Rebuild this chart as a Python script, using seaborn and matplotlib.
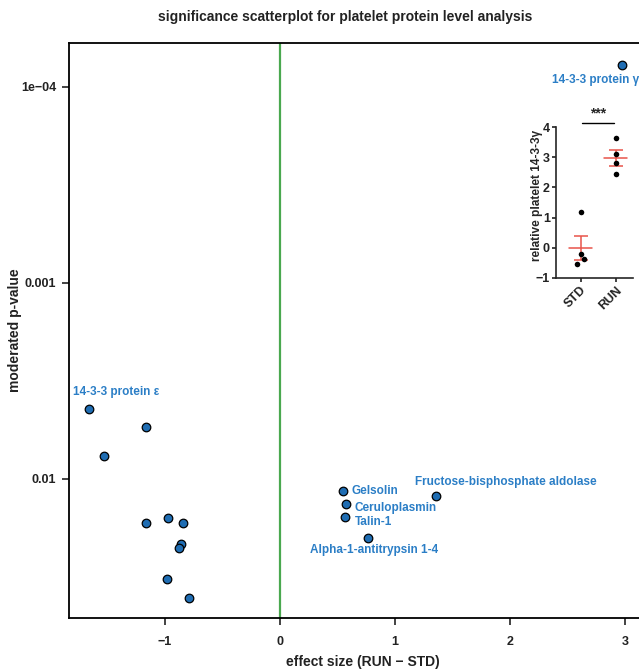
import numpy as np
import pandas as pd
import seaborn as sns
import matplotlib.pyplot as plt

# main volcano-style data: effect size and moderated p-value
proteins = ["14-3-3 protein γ", "14-3-3 protein ε", "", "", "", "", "", "", "", "", "",
            "Gelsolin", "Ceruloplasmin", "Talin-1", "Alpha-1-antitrypsin 1-4",
            "Fructose-bisphosphate aldolase"]
effect = [2.97, -1.66, -1.17, -1.53, -1.165, -0.977, -0.846, -0.861, -0.881, -0.98, -0.794,
          0.545, 0.571, 0.568, 0.768, 1.354]
log_p = [-4.112, -2.357, -2.265, -2.117, -1.776, -1.803, -1.776, -1.67, -1.646, -1.488, -1.394,
         -1.939, -1.874, -1.808, -1.699, -1.915]
pval = [10 ** v for v in log_p]

# inset: relative platelet 14-3-3 gamma
groups = ["STD", "STD", "STD", "STD", "RUN", "RUN", "RUN", "RUN"]
rel_level = [-0.55, 1.2, -0.22, -0.37, 3.65, 3.1, 2.8, 2.43]
group_mean = [0.0, 2.97]
group_sem = [0.40, 0.27]

sns.set_theme(style="ticks")
plt.rcParams['font.family'] = ['Liberation Sans', 'DejaVu Sans']
plt.rcParams['font.weight'] = 'bold'

df = pd.DataFrame({"protein": proteins, "effect": effect, "p": pval})

fig = plt.figure(figsize=(6.39, 6.71), dpi=100)
ax = fig.add_axes([0.1072, 0.079, 0.907, 0.857])
sns.scatterplot(data=df, x="effect", y="p", ax=ax, color="#1f6db3", edgecolor="black",
                linewidth=0.9, s=38, zorder=3, legend=False)
ax.axvline(0, color="#4aa84f", lw=1.6, zorder=2)
ax.set_yscale("log")
ax.set_xlim(-1.84, 3.2)
ax.set_ylim(10 ** -1.291, 10 ** -4.224)
ax.set_yticks([1e-4, 1e-3, 1e-2])
ax.set_yticklabels(["1e\u221204", "0.001", "0.01"])
ax.minorticks_off()
ax.set_xticks([-1, 0, 1, 2, 3])
ax.set_xticklabels(["\u22121", "0", "1", "2", "3"])
ax.tick_params(labelsize=9, width=1.2, length=5, colors="#222222")
ax.tick_params(axis="x", pad=8)
ax.tick_params(axis="y", pad=4)
for lab in ax.get_xticklabels() + ax.get_yticklabels():
    lab.set_fontweight("bold")
for sp in ax.spines.values():
    sp.set_linewidth(1.3)
    sp.set_color("black")
ax.set_xlabel("")
ax.set_ylabel("")

lab_color = "#2b7ec6"
# label offsets in points: (dx, dy)
offsets = {
    "14-3-3 protein γ": (-50, -11),
    "14-3-3 protein ε": (-12, 12),
    "Gelsolin": (6, 0),
    "Ceruloplasmin": (6, -3),
    "Talin-1": (7, -4),
    "Alpha-1-antitrypsin 1-4": (-42, -9),
    "Fructose-bisphosphate aldolase": (-15, 10),
}
for name, xv, pv in zip(proteins, effect, pval):
    if name in offsets:
        dx, dy = offsets[name]
        ax.annotate(name, (xv, pv), xytext=(dx, dy), textcoords="offset points",
                    ha="left", va="center", color=lab_color, fontsize=8.5, fontweight="bold")

fig.text(345 / 639, 1 - 17 / 671, "significance scatterplot for platelet protein level analysis",
         ha="center", va="center", fontsize=10, fontweight="bold", color="#222222")
fig.text(363 / 639, 1 - 662 / 671, "effect size (RUN \u2212 STD)", ha="center", va="center",
         fontsize=10, fontweight="bold", color="#222222")
fig.text(15 / 639, 1 - 330 / 671, "moderated p-value", ha="center", va="center", rotation=90,
         fontsize=10, fontweight="bold", color="#222222")

# inset dot plot
iax = fig.add_axes([556 / 639, 1 - 278 / 671, 77 / 639, 151 / 671])
inset = pd.DataFrame({"group": groups, "level": rel_level})
order = ["STD", "RUN"]
xpos = {"STD": 0, "RUN": 1}
jit = [-0.1, 0.0, 0.0, 0.1, 0.0, 0.0, 0.0, 0.0]
inset["x"] = [xpos[g] + j for g, j in zip(groups, jit)]
sns.scatterplot(data=inset, x="x", y="level", ax=iax, color="black", s=16,
                edgecolor="black", linewidth=0, zorder=3, legend=False)
for i, (m, se) in enumerate(zip(group_mean, group_sem)):
    iax.plot([i - 0.33, i + 0.33], [m, m], color="#e8544a", lw=1.1, zorder=2)
    iax.errorbar(i, m, yerr=se, color="#e8544a", capsize=5, elinewidth=1.1, capthick=1.1, zorder=2)
iax.set_xlim(-0.7, 1.5)
iax.set_ylim(-1, 4)
iax.set_yticks([-1, 0, 1, 2, 3, 4])
iax.set_xticks([0, 1])
iax.set_xticklabels(order, rotation=45, ha="right", rotation_mode="anchor")
iax.tick_params(labelsize=9, width=1.2, length=3, pad=1.5, colors="#222222")
for lab in iax.get_xticklabels() + iax.get_yticklabels():
    lab.set_fontweight("bold")
sns.despine(ax=iax)
iax.spines["left"].set_linewidth(1.2)
iax.spines["bottom"].set_linewidth(1.2)
iax.patch.set_alpha(0)
iax.set_xlabel("")
iax.set_ylabel("relative platelet 14-3-3\u03b3", fontsize=8.6, fontweight="bold", labelpad=2)
iax.yaxis.set_label_coords(-0.17, 0.55)
iax.plot([0.03, 0.95], [4.13, 4.13], color="black", lw=1, clip_on=False)
iax.text(0.49, 4.2, "***", ha="center", va="bottom", fontsize=10, fontweight="bold")

fig.savefig("out.png", dpi=100)
